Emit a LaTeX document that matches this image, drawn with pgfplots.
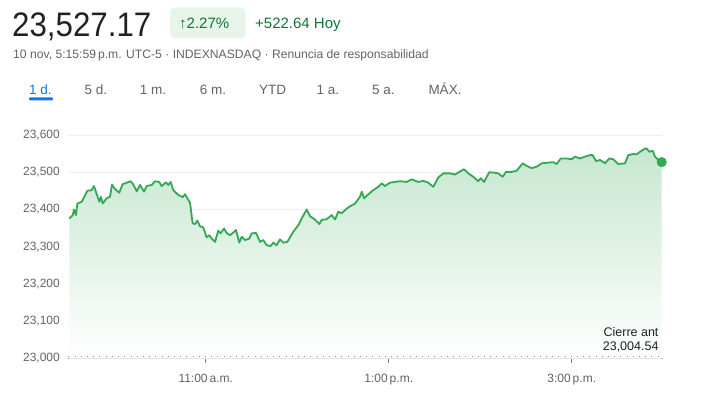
\documentclass[border=0pt]{standalone}
\usepackage{pgfplots}
\pgfplotsset{compat=1.18}
\usepackage{pgfplotstable}
\usepackage{fontspec}
\setmainfont{Liberation Sans}
\definecolor{lineg}{HTML}{34A853}
\definecolor{darkg}{HTML}{137333}
\definecolor{boxg}{HTML}{E6F4EA}
\definecolor{txt}{HTML}{202124}
\definecolor{sub}{HTML}{5F6368}
\definecolor{blu}{HTML}{1A73E8}
\definecolor{gridc}{HTML}{EFEFEF}
\definecolor{fillg}{HTML}{C6E7CF}
\definecolor{axisc}{HTML}{B0B4B8}
\definecolor{tickc}{HTML}{70757A}
\pgfplotstableread{
x y
0.5 23376
2.8 23385
3.6 23400
4.9 23385
5.8 23416
8.7 23421
12.3 23450
15.2 23452
16.7 23463
20.2 23421
21.3 23434
22.4 23416
25.0 23430
27.2 23434
28.5 23467
30.5 23455
33.3 23445
35.5 23468
38.2 23472
40.8 23476
42.5 23467
44.7 23449
46.9 23466
49.5 23448
51.3 23463
54.6 23466
56.7 23476
59.5 23474
61.1 23463
63.9 23473
65.4 23466
67.0 23474
68.7 23452
72.0 23439
74.9 23433
76.4 23441
79.7 23418
81.4 23363
83.0 23361
84.5 23370
86.2 23355
88.4 23352
90.6 23325
92.3 23331
93.9 23322
96.1 23313
98.2 23343
99.8 23336
102.0 23349
103.7 23337
105.9 23331
107.7 23337
109.8 23345
112.0 23311
113.6 23327
115.7 23318
118.6 23322
120.1 23336
123.0 23337
125.6 23313
127.7 23318
130.0 23304
132.6 23302
134.3 23311
136.5 23304
138.7 23320
140.9 23311
143.5 23313
147.4 23340
150.7 23358
152.9 23376
156.2 23400
158.4 23382
161.6 23373
164.5 23361
166.0 23372
169.3 23374
172.6 23385
174.8 23373
176.9 23394
179.1 23390
183.5 23406
187.9 23416
191.1 23434
192.3 23448
193.8 23430
196.6 23441
199.9 23452
203.1 23461
205.4 23470
207.5 23463
210.8 23472
214.1 23474
217.4 23476
221.8 23474
225.0 23481
229.4 23474
232.7 23477
235.9 23472
239.2 23461
242.5 23486
245.8 23497
250.2 23497
253.4 23494
256.3 23501
259.3 23508
262.2 23497
265.4 23488
268.7 23476
270.3 23484
272.5 23474
275.9 23500
279.0 23499
281.8 23497
284.7 23488
286.9 23501
290.6 23501
293.9 23504
297.8 23524
300.5 23517
303.7 23511
307.0 23515
310.3 23524
314.6 23526
317.9 23527
320.1 23522
322.8 23537
326.7 23537
330.0 23535
332.1 23542
335.4 23537
338.7 23542
342.0 23546
343.7 23546
345.9 23530
348.5 23533
351.8 23524
354.6 23537
357.2 23535
360.5 23522
364.9 23524
367.1 23546
370.4 23549
372.6 23548
374.8 23555
377.4 23562
379.1 23564
380.9 23555
383.1 23558
384.6 23542
387.9 23528
389.0 23527.17
}\ndx
\begin{document}
\begin{tikzpicture}
\path (0pt,0pt) rectangle (702pt,-394pt);
% header
\node[anchor=base west, inner sep=0, text=txt] at (12pt,-36.7pt) {\scalebox{0.92}[1]{\fontsize{34}{34}\selectfont 23,527.17}};
\fill[boxg, rounded corners=5pt] (170pt,-7.3pt) rectangle (245.7pt,-38.3pt);
\node[anchor=base west, inner sep=0, text=darkg] at (179pt,-28.3pt) {\fontsize{15}{15}\selectfont ↑2.27\%};
\node[anchor=base west, inner sep=0, text=darkg] at (255pt,-28.3pt) {\fontsize{15}{15}\selectfont +522.64 Hoy};
\node[anchor=base west, inner sep=0, text=sub] at (13pt,-58.5pt) {\fontsize{12.15}{12.15}\selectfont 10 nov, 5:15:59\,p.m. UTC-5 · INDEXNASDAQ · Renuncia de responsabilidad};
% tabs
\begin{scope}[every node/.style={anchor=base, inner sep=0, text=sub, font=\fontsize{13.5}{13.5}\selectfont}]
\node[text=blu] at (40.5pt,-94pt) {1 d.};
\node at (96pt,-94pt) {5 d.};
\node at (153pt,-94pt) {1 m.};
\node at (213pt,-94pt) {6 m.};
\node at (272.5pt,-94pt) {YTD};
\node at (328pt,-94pt) {1 a.};
\node at (383.5pt,-94pt) {5 a.};
\node at (445pt,-94pt) {MÁX.};
\end{scope}
\fill[blu, rounded corners=1pt] (29pt,-97.3pt) rectangle (53pt,-100.3pt);
\begin{axis}[
  at={(68.5pt,-358.5pt)}, anchor=origin,
  scale only axis, width=594.75pt, height=223.5pt,
  xmin=0, xmax=390, ymin=23000, ymax=23600,
  clip=false,
  axis x line*=bottom, axis y line*=left,
  y axis line style={draw=none},
  x axis line style={draw=axisc, line width=1pt},
  ytick={23000,23100,...,23600},
  ymajorgrids, grid style={gridc, line width=0.8pt},
  y tick style={draw=none},
  xtick={90,210,330},
  xticklabels={11:00\,a.m., 1:00\,p.m., 3:00\,p.m.},
  x tick style={draw=tickc, line width=1.3pt},
  tick align=outside, major tick length=4pt,
  tick label style={font=\fontsize{12}{12}\selectfont, text=sub},
  yticklabel style={anchor=east, inner sep=0pt, xshift=-4.5pt},
  xticklabel style={anchor=base, inner sep=0pt, yshift=-19.8pt},
  /pgf/number format/assume math mode=true,
  /pgf/number format/1000 sep={,},
  scaled y ticks=false,
]
\addplot[draw=none, top color=fillg, middle color=fillg!45!white, bottom color=white] table[x=x,y=y] {\ndx} \closedcycle;
\addplot[draw=tickc!80, line width=1.1pt, dash pattern=on 1pt off 5.2pt] coordinates {(0,23004.54) (390,23004.54)};
\addplot[lineg, line width=1.8pt, line join=round] table[x=x,y=y] {\ndx};
\addplot[only marks, mark=*, mark size=4.8pt, lineg] coordinates {(389,23527.17)};
\node[anchor=base east, inner sep=0, text=txt, font=\fontsize{12.5}{12.5}\selectfont] at (axis cs:387,23060) {Cierre ant};
\node[anchor=base east, inner sep=0, text=txt, font=\fontsize{12.5}{12.5}\selectfont] at (axis cs:387,23022.5) {23,004.54};
\end{axis}
\end{tikzpicture}
\end{document}
